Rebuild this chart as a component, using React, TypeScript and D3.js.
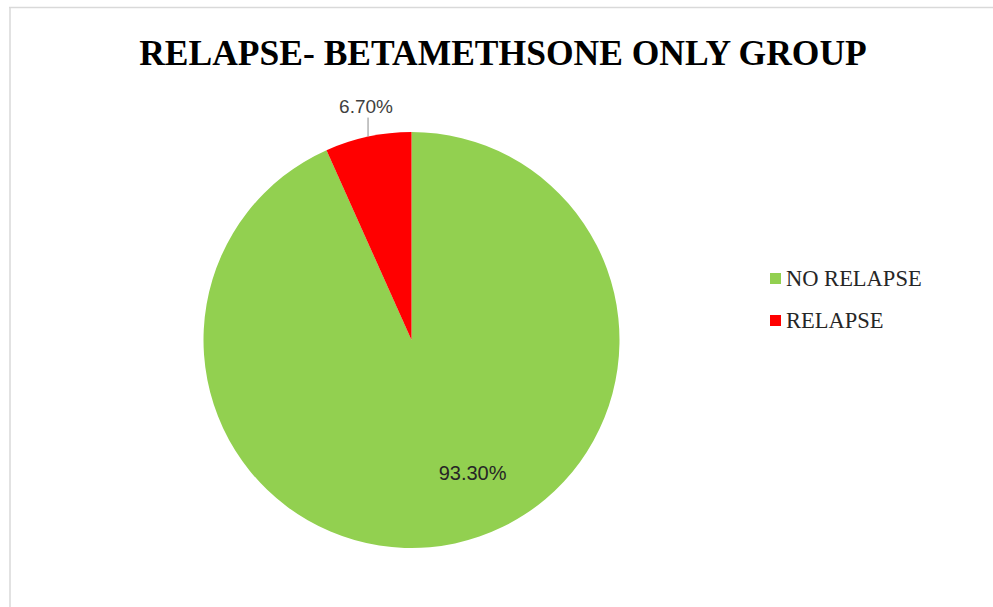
import React from "react";
import * as d3 from "d3";

const categories: string[] = ["NO RELAPSE", "RELAPSE"];
const values: number[] = [93.3, 6.7];
const colors: string[] = ["#92D050", "#FF0000"];
const valueLabels: string[] = ["93.30%", "6.70%"];
const title = "RELAPSE- BETAMETHSONE ONLY GROUP";

const W = 993;
const H = 607;
const cx = 411.5;
const cy = 340;
const R = 208;

export default function App() {
  const pie = d3
    .pie<number>()
    .sort(null)
    .value((d) => d)
    .startAngle(0)
    .endAngle(2 * Math.PI);
  const arcs = pie(values);
  const arc = d3.arc<d3.PieArcDatum<number>>().innerRadius(0).outerRadius(R);

  // inside label for the big slice (Excel best-fit placement)
  const big = arcs[0];
  const bigAngle = (big.startAngle + big.endAngle) / 2 - 0.215;
  const bigR = R * 0.7;
  const bx = Math.sin(bigAngle) * bigR;
  const by = -Math.cos(bigAngle) * bigR;

  // outside label with leader for small slice
  const small = arcs[1];
  const sAngle = (small.startAngle + small.endAngle) / 2;
  const sx = Math.sin(sAngle) * R;
  const sy = -Math.cos(sAngle) * R;

  const legendX = 770;
  const legendY = 278;
  const legendStep = 42;

  return (
    <div style={{ position: "absolute", left: 0, top: 0 }}>
      <svg width={W} height={H} style={{ display: "block" }}>
        <rect x={0} y={0} width={W} height={H} fill="#ffffff" />
        <line x1={9} y1={7.5} x2={W} y2={7.5} stroke="#d9d9d9" strokeWidth={1.5} />
        <line x1={10} y1={7} x2={10} y2={H} stroke="#d9d9d9" strokeWidth={1.5} />
        <text
          x={503}
          y={65}
          textAnchor="middle"
          fontFamily="'Liberation Serif', 'Times New Roman', serif"
          fontWeight="bold"
          fontSize={35.5}
          fill="#000000"
        >
          {title}
        </text>
        <g transform={`translate(${cx},${cy})`}>
          {arcs.map((a, i) => (
            <path key={categories[i]} d={arc(a) || ""} fill={colors[i]} />
          ))}
          <text
            x={bx + 1}
            y={by}
            textAnchor="middle"
            dominantBaseline="central"
            fontFamily="'Liberation Sans', Arial, sans-serif"
            fontSize={20}
            fill="#262626"
          >
            {valueLabels[0]}
          </text>
          <line x1={sx} y1={sy} x2={sx} y2={sy - 19} stroke="#8c8c8c" strokeWidth={1} />
          <text
            x={sx - 2}
            y={sy - 24}
            textAnchor="middle"
            fontFamily="'Liberation Sans', Arial, sans-serif"
            fontSize={19}
            fill="#404040"
          >
            {valueLabels[1]}
          </text>
        </g>
        <g>
          {categories.map((c, i) => (
            <g key={c} transform={`translate(${legendX},${legendY + i * legendStep})`}>
              <rect x={0} y={-5} width={11} height={11} fill={colors[i]} />
              <text
                x={16}
                y={7.5}
                fontFamily="'Liberation Serif', 'Times New Roman', serif"
                fontSize={22.5}
                fill="#262626"
              >
                {c}
              </text>
            </g>
          ))}
        </g>
      </svg>
    </div>
  );
}
